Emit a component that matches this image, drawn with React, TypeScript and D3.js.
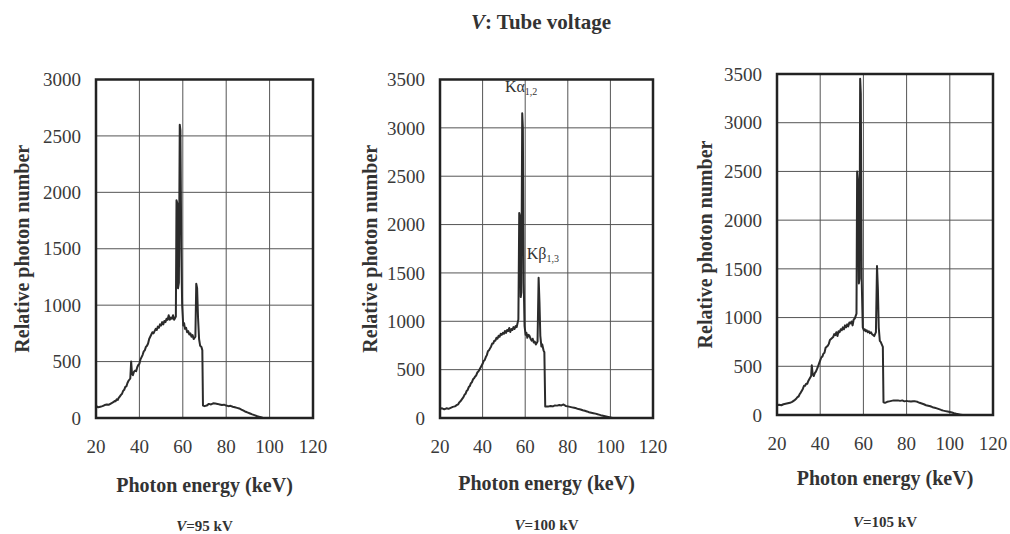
import React from 'react';
import * as d3 from 'd3';

// ---------- data ----------
const xTickValues = [20, 40, 60, 80, 100, 120];
const yTicks3000 = [0, 500, 1000, 1500, 2000, 2500, 3000];
const yTicks3500 = [0, 500, 1000, 1500, 2000, 2500, 3000, 3500];

// [photon energy keV, relative photon number]
const spectrum95: [number, number][] = [
  [20, 110], [20.5, 100], [21, 95], [22, 100], [23, 105], [24, 115], [25, 120], [26, 118], [27, 130],
  [28, 140], [28.5, 150], [29, 148], [29.5, 165], [30, 160], [30.5, 180], [31, 190], [31.5, 205],
  [32, 215], [32.5, 240], [33, 250], [33.5, 275], [34, 280], [34.5, 310], [35, 330], [35.8, 350],
  [36.2, 500], [36.6, 390], [37, 380], [37.5, 410], [38, 420], [38.5, 415], [39, 450], [39.5, 470],
  [40, 480], [40.5, 520], [41, 540], [41.5, 560], [42, 590], [42.5, 600], [43, 630], [43.5, 640],
  [44, 660], [44.5, 700], [45, 720], [45.5, 740], [46, 760], [46.5, 750], [47, 770], [47.5, 790],
  [48, 780], [48.5, 810], [49, 800], [49.5, 830], [50, 820], [50.5, 850], [51, 830], [51.5, 860],
  [52, 850], [52.5, 880], [53, 870], [53.5, 910], [54, 870], [54.5, 890], [55, 880], [55.5, 910],
  [56, 870], [56.8, 900], [57.1, 1930], [57.5, 1900], [57.8, 1150], [58.2, 1200], [58.6, 2600],
  [58.9, 2550], [59.3, 1500], [59.7, 1000], [60.2, 820], [60.6, 840], [61, 790], [61.5, 800],
  [62, 760], [62.5, 770], [63, 740], [63.5, 750], [64, 720], [64.5, 735], [65, 700], [65.8, 720],
  [66.2, 1190], [66.6, 1150], [67, 900], [67.5, 700], [68, 640], [68.6, 630], [69, 600], [69.3, 110],
  [70, 105], [71, 110], [72, 125], [73, 120], [74, 130], [75, 128], [76, 125], [77, 120], [78, 115],
  [79, 118], [80, 110], [81, 105], [82, 108], [83, 100], [84, 95], [85, 90], [86, 85], [87, 75],
  [88, 65], [89, 55], [90, 48], [91, 40], [92, 32], [93, 25], [94, 18], [95, 12], [96, 6], [97, 0],
];

const spectrum100: [number, number][] = [
  [20, 95], [21, 100], [22, 90], [23, 100], [24, 95], [25, 105], [26, 115], [27, 120], [28, 135],
  [28.5, 140], [29, 160], [29.5, 170], [30, 185], [30.5, 200], [31, 215], [31.5, 240], [32, 250],
  [32.5, 280], [33, 290], [33.5, 320], [34, 330], [34.5, 360], [35, 370], [35.5, 400], [36, 410],
  [36.5, 430], [37, 440], [37.5, 470], [38, 480], [38.5, 500], [39, 520], [39.5, 540], [40, 560],
  [40.5, 590], [41, 600], [41.5, 630], [42, 650], [42.5, 690], [43, 700], [43.5, 720], [44, 740],
  [44.5, 770], [45, 770], [45.5, 800], [46, 800], [46.5, 830], [47, 820], [47.5, 850], [48, 840],
  [48.5, 870], [49, 860], [49.5, 880], [50, 870], [50.5, 900], [51, 880], [51.5, 910], [52, 900],
  [52.5, 930], [53, 890], [53.5, 920], [54, 910], [54.5, 940], [55, 920], [55.5, 950], [56, 940],
  [56.8, 1020], [57.2, 2120], [57.6, 2080], [57.9, 1250], [58.2, 1300], [58.6, 3150], [58.9, 3000],
  [59.3, 1400], [59.7, 950], [60.2, 860], [60.6, 880], [61, 830], [61.5, 860], [62, 850], [62.5, 820],
  [63, 800], [63.5, 820], [64, 780], [64.5, 790], [65, 760], [65.8, 790], [66.3, 1450], [66.7, 1200],
  [67.1, 850], [67.6, 740], [68, 760], [68.6, 700], [69, 680], [69.4, 120], [70, 118], [71, 120],
  [72, 125], [73, 120], [74, 130], [75, 128], [76, 135], [77, 130], [78, 140], [79, 125], [80, 120],
  [81, 115], [82, 110], [83, 105], [84, 100], [85, 92], [86, 88], [87, 80], [88, 75], [89, 68],
  [90, 60], [91, 55], [92, 50], [93, 45], [94, 38], [95, 32], [96, 25], [97, 20], [98, 15], [99, 10],
  [100, 5], [101, 0],
];

const spectrum105: [number, number][] = [
  [20, 100], [21, 105], [22, 100], [23, 110], [24, 115], [25, 120], [26, 125], [27, 135], [28, 150],
  [28.5, 160], [29, 170], [29.5, 185], [30, 190], [30.5, 215], [31, 230], [31.5, 250], [32, 270],
  [32.5, 300], [33, 300], [33.5, 320], [34, 320], [34.5, 350], [35, 370], [35.8, 400], [36.1, 510],
  [36.5, 420], [37, 400], [37.5, 430], [38, 445], [38.5, 470], [39, 500], [39.5, 530], [40, 560],
  [40.5, 590], [41, 600], [41.5, 630], [42, 640], [42.5, 690], [43, 700], [43.5, 710], [44, 730],
  [44.5, 770], [45, 780], [45.5, 790], [46, 800], [46.5, 830], [47, 820], [47.5, 850], [48, 810],
  [48.5, 860], [49, 850], [49.5, 880], [50, 870], [50.5, 900], [51, 880], [51.5, 920], [52, 900],
  [52.5, 930], [53, 910], [53.5, 950], [54, 940], [54.5, 960], [55, 920], [55.5, 980], [56, 990],
  [56.8, 1040], [57.1, 2500], [57.5, 2400], [57.9, 1350], [58.2, 1400], [58.5, 3450], [58.8, 3300],
  [59.2, 1400], [59.7, 900], [60.2, 870], [60.6, 880], [61, 860], [61.5, 870], [62, 850], [62.5, 860],
  [63, 840], [63.5, 850], [64, 830], [64.5, 820], [65, 810], [65.8, 850], [66.3, 1530], [66.7, 1300],
  [67.1, 900], [67.6, 760], [68, 750], [68.6, 720], [69, 700], [69.3, 130], [70, 125], [71, 135],
  [72, 140], [73, 145], [74, 150], [75, 148], [76, 150], [77, 145], [78, 150], [79, 140], [80, 145],
  [81, 140], [82, 138], [83, 142], [84, 140], [85, 135], [86, 125], [87, 118], [88, 110], [89, 100],
  [90, 95], [91, 90], [92, 80], [93, 75], [94, 68], [95, 60], [96, 52], [97, 45], [98, 40], [99, 35],
  [100, 30], [101, 25], [102, 18], [103, 12], [104, 8], [105, 4], [106, 0],
];

const voltages = ['95', '100', '105'];

// ---------- layout ----------
const FONT = '"Liberation Serif", "Times New Roman", Times, serif';
const INK = '#2b2b2b';

const layouts = [
  { left: 96, right: 313, top: 79.5, bottom: 418, yTitleX: 22, xTitleY: 492, captionY: 531 },
  { left: 440, right: 653, top: 79.5, bottom: 418, yTitleX: 370, xTitleY: 490, captionY: 530 },
  { left: 777, right: 993, top: 74, bottom: 415, yTitleX: 705, xTitleY: 485, captionY: 527 },
];

const series = [
  { data: spectrum95, yMax: 3000, yTicks: yTicks3000 },
  { data: spectrum100, yMax: 3500, yTicks: yTicks3500 },
  { data: spectrum105, yMax: 3500, yTicks: yTicks3500 },
];

function Panel({ idx }: { idx: number }) {
  const L = layouts[idx];
  const S = series[idx];
  const x = d3.scaleLinear().domain([20, 120]).range([L.left, L.right]);
  const y = d3.scaleLinear().domain([0, S.yMax]).range([L.bottom, L.top]);
  const line = d3
    .line<[number, number]>()
    .x((d) => x(d[0]))
    .y((d) => y(d[1]));
  const cx = (L.left + L.right) / 2;
  const cy = (L.top + L.bottom) / 2;
  return (
    <g style={{ fontFamily: FONT }}>
      {xTickValues.slice(1, -1).map((t) => (
        <line key={'gx' + t} x1={x(t)} x2={x(t)} y1={L.top} y2={L.bottom} stroke="#555" strokeWidth={1} />
      ))}
      {S.yTicks.slice(1, -1).map((t) => (
        <line key={'gy' + t} x1={L.left} x2={L.right} y1={y(t)} y2={y(t)} stroke="#555" strokeWidth={1} />
      ))}
      <path d={line(S.data) || ''} fill="none" stroke={INK} strokeWidth={2} strokeLinejoin="round" />
      <rect x={L.left} y={L.top} width={L.right - L.left} height={L.bottom - L.top} fill="none" stroke="#222" strokeWidth={2.5} />
      {S.yTicks.map((t) => (
        <text key={'ty' + t} x={L.left - 15} y={y(t)} dy="0.35em" textAnchor="end" fontSize={19} fill="#3a3a3a">
          {t}
        </text>
      ))}
      {xTickValues.map((t) => (
        <text key={'tx' + t} x={x(t)} y={L.bottom + 35} textAnchor="middle" fontSize={19} fill="#3a3a3a">
          {t}
        </text>
      ))}
      <text
        transform={`translate(${L.yTitleX},${cy}) rotate(-90)`}
        dy="0.35em"
        textAnchor="middle"
        fontSize={20}
        fontWeight="bold"
        fill="#333"
      >
        Relative photon number
      </text>
      <text x={cx} y={L.xTitleY} textAnchor="middle" fontSize={20} fontWeight="bold" fill="#333">
        Photon energy (keV)
      </text>
      <text x={cx} y={L.captionY} textAnchor="middle" fontSize={15} fontWeight="bold" fill="#333">
        <tspan fontStyle="italic">V</tspan>={voltages[idx]} kV
      </text>
    </g>
  );
}

export default function App() {
  const L2 = layouts[1];
  const x2 = d3.scaleLinear().domain([20, 120]).range([L2.left, L2.right]);
  const y2 = d3.scaleLinear().domain([0, 3500]).range([L2.bottom, L2.top]);
  return (
    <svg width={1010} height={534} style={{ position: 'absolute', left: 0, top: 0, background: '#fff', fontFamily: FONT }}>
      <rect x={0} y={0} width={1010} height={534} fill="#fff" />
      <text x={541} y={29} textAnchor="middle" fontSize={21} fontWeight="bold" fill="#333">
        <tspan fontStyle="italic">V</tspan>: Tube voltage
      </text>
      {[0, 1, 2].map((i) => (
        <Panel key={i} idx={i} />
      ))}
      <text x={x2(58.1)} y={y2(3370)} fontSize={16} fill="#333" textAnchor="middle">
        Kα<tspan fontSize={10} dy={3}>1,2</tspan>
      </text>
      <text x={x2(68.3)} y={y2(1640)} fontSize={16} fill="#333" textAnchor="middle">
        Kβ<tspan fontSize={10} dy={3}>1,3</tspan>
      </text>
    </svg>
  );
}
